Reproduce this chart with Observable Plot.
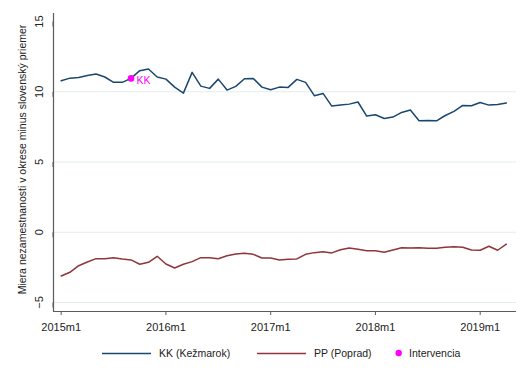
<!DOCTYPE html>
<html><head><meta charset="utf-8">
<script src="https://cdn.jsdelivr.net/npm/d3@7"></script>
<script src="https://cdn.jsdelivr.net/npm/@observablehq/plot@0.6"></script>
<style>
body{margin:0;background:#fff;font-family:"Liberation Sans",Arial,sans-serif;}
#wrap{position:relative;width:528px;height:384px;background:#fff;}
#legend{position:absolute;left:0;top:340px;}
</style></head><body><div id="wrap"></div>
<script>
// Monthly data, 2015m1 .. 2019m4 (52 months)
const tickMonths = [0, 12, 24, 36, 48];
const tickLabels = ["2015m1", "2016m1", "2017m1", "2018m1", "2019m1"];
const yTicks = [-5, 0, 5, 10, 15];
const yGrid = [-5, 0, 5, 10];

const kk = [10.78, 10.97, 11.02, 11.16, 11.26, 11.05, 10.67, 10.67, 10.95, 11.50,
            11.62, 11.05, 10.90, 10.33, 9.90, 11.38, 10.40, 10.24, 10.90, 10.12,
            10.38, 10.93, 10.95, 10.33, 10.14, 10.33, 10.31, 10.88, 10.67, 9.72,
            9.88, 8.98, 9.05, 9.12, 9.27, 8.27, 8.36, 8.10, 8.20, 8.53,
            8.70, 7.93, 7.96, 7.93, 8.31, 8.60, 9.03, 9.00, 9.24, 9.05,
            9.09, 9.20];
const pp = [-3.11, -2.85, -2.38, -2.12, -1.88, -1.88, -1.81, -1.90, -1.97, -2.28,
            -2.14, -1.71, -2.26, -2.54, -2.28, -2.09, -1.81, -1.81, -1.88, -1.67,
            -1.55, -1.50, -1.57, -1.83, -1.83, -1.97, -1.92, -1.90, -1.57, -1.45,
            -1.38, -1.47, -1.24, -1.12, -1.21, -1.31, -1.31, -1.42, -1.26, -1.10,
            -1.12, -1.10, -1.14, -1.14, -1.07, -1.03, -1.07, -1.26, -1.28, -1.00,
            -1.28, -0.85];
const interventionMonth = 8;   // 2015m9
const interventionLabel = "KK";
const seriesNames = ["KK (Kežmarok)", "PP (Poprad)", "Intervencia"];
const colors = {kk: "#1a476f", pp: "#90353b", int: "#ff00ff"};
const yTitle = "Miera nezamestnanosti v okrese minus slovenský priemer";

const kkData = kk.map((v, i) => ({m: i, v}));
const ppData = pp.map((v, i) => ({m: i, v}));
const intData = [{m: interventionMonth, v: kk[interventionMonth], label: interventionLabel}];

const xDomain = [-0.88, 52.16];
const yDomain = [-5.64, 15.57];
const axisColor = "#5b5b5b";

const chart = Plot.plot({
  width: 528,
  height: 340,
  marginLeft: 53,
  marginRight: 12,
  marginTop: 13,
  marginBottom: 29,
  style: {fontFamily: '"Liberation Sans", Arial, sans-serif', background: "#fff"},
  x: {domain: xDomain},
  y: {domain: yDomain},
  marks: [
    Plot.gridY(yGrid, {stroke: "#e3ecef", strokeOpacity: 1, strokeWidth: 1}),
    Plot.ruleX([xDomain[0]], {stroke: axisColor, strokeWidth: 1.2}),
    Plot.ruleY([yDomain[0]], {stroke: axisColor, strokeWidth: 1.2}),
    Plot.axisY(yTicks, {
      tickSize: 5, tickPadding: 9, rotate: -90, textAnchor: "middle",
      fontSize: 11, stroke: axisColor, fill: "#222", label: null
    }),
    Plot.axisX(tickMonths, {
      tickSize: 4, tickPadding: 8, fontSize: 11, stroke: axisColor, fill: "#222",
      tickFormat: (d) => tickLabels[tickMonths.indexOf(d)], label: null
    }),
    Plot.text([yTitle], {
      frameAnchor: "left", rotate: -90, dx: -31, dy: -3,
      textAnchor: "middle", lineAnchor: "middle", fontSize: 10.5, fill: "#222"
    }),
    Plot.line(kkData, {x: "m", y: "v", stroke: colors.kk, strokeWidth: 1.5}),
    Plot.line(ppData, {x: "m", y: "v", stroke: colors.pp, strokeWidth: 1.5}),
    Plot.dot(intData, {x: "m", y: "v", r: 3.3, fill: colors.int, stroke: "none"}),
    Plot.text(intData, {x: "m", y: "v", text: "label", dx: 5.5, dy: 2.5,
      textAnchor: "start", fill: colors.int, fontSize: 10.5})
  ]
});

const wrap = document.getElementById("wrap");
wrap.appendChild(chart);

// Legend below the chart
const leg = d3.select(wrap).append("svg").attr("id", "legend")
  .attr("width", 528).attr("height", 44)
  .style("font-family", '"Liberation Sans", Arial, sans-serif');
const ly = 13.5;
const items = [
  {type: "line", color: colors.kk, x0: 102, x1: 151, tx: 159, name: seriesNames[0]},
  {type: "line", color: colors.pp, x0: 257, x1: 306, tx: 314, name: seriesNames[1]},
  {type: "dot", color: colors.int, x0: 398.7, tx: 409, name: seriesNames[2]}
];
for (const it of items) {
  if (it.type === "line") {
    leg.append("line").attr("x1", it.x0).attr("x2", it.x1).attr("y1", ly).attr("y2", ly)
      .attr("stroke", it.color).attr("stroke-width", 1.5);
  } else {
    leg.append("circle").attr("cx", it.x0).attr("cy", ly - 0.5).attr("r", 3.2).attr("fill", it.color);
  }
  leg.append("text").attr("x", it.tx).attr("y", ly).attr("dy", "0.35em")
    .attr("font-size", 10.5).attr("fill", "#222").text(it.name);
}
</script></body></html>
